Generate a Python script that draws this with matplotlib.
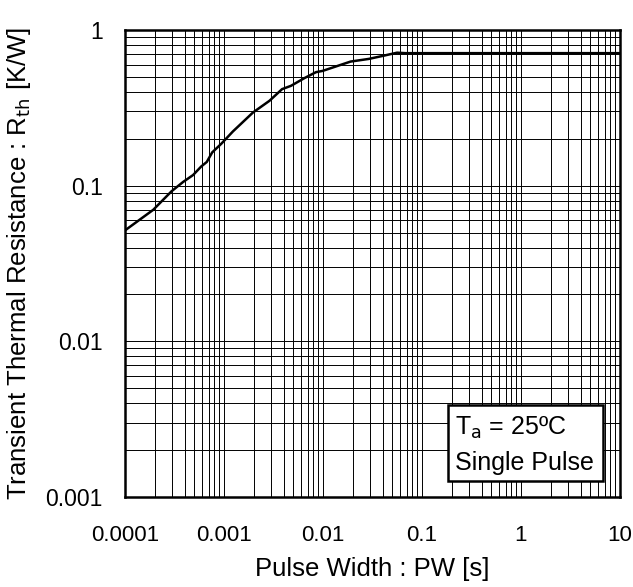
import matplotlib
matplotlib.use("Agg")
import matplotlib.pyplot as plt
from matplotlib.patches import Rectangle
from matplotlib.ticker import LogLocator, FixedLocator, NullFormatter

plt.rcParams['font.family'] = ['Liberation Sans', 'DejaVu Sans']

# single pulse transient thermal resistance
pw = [1e-4, 1.93e-4, 2.95e-4, 3.86e-4, 4.87e-4, 5.9e-4, 6.7e-4, 7.6e-4, 9.4e-4,
      1.23e-3, 1.96e-3, 2.88e-3, 3.86e-3, 4.75e-3, 6.46e-3, 8.5e-3, 9.9e-3,
      1.9e-2, 2.9e-2, 3.98e-2, 5.6e-2, 6.8e-2, 10]
rth = [0.0516, 0.070, 0.092, 0.1056, 0.117, 0.133, 0.142, 0.1636, 0.186,
       0.223, 0.295, 0.351, 0.417, 0.438, 0.490, 0.536, 0.546,
       0.627, 0.652, 0.681, 0.715, 0.71, 0.71]

xticks = [1e-4, 1e-3, 1e-2, 1e-1, 1, 10]
xlabels = ['0.0001', '0.001', '0.01', '0.1', '1', '10']
yticks = [1e-3, 1e-2, 1e-1, 1]
ylabels = ['0.001', '0.01', '0.1', '1']

fig = plt.figure(figsize=(6.33, 5.87), dpi=100)
ax = fig.add_axes([125/633, 1 - 497/587, 495/633, 467/587])
ax.set_xscale('log')
ax.set_yscale('log')
ax.set_xlim(1e-4, 10)
ax.set_ylim(1e-3, 1)

ax.xaxis.set_major_locator(FixedLocator(xticks))
ax.set_xticklabels(xlabels)
ax.yaxis.set_major_locator(FixedLocator(yticks))
ax.set_yticklabels(ylabels)
ax.xaxis.set_minor_locator(LogLocator(base=10, subs=range(2, 10), numticks=20))
ax.yaxis.set_minor_locator(LogLocator(base=10, subs=range(2, 10), numticks=20))
ax.xaxis.set_minor_formatter(NullFormatter())
ax.yaxis.set_minor_formatter(NullFormatter())

ax.grid(True, which='both', color='black', linewidth=0.7)
ax.tick_params(which='both', length=0)
ax.tick_params(axis='x', pad=20, labelsize=16)
ax.tick_params(axis='y', pad=16, labelsize=16.5)
for s in ax.spines.values():
    s.set_linewidth(1.8)

ax.plot(pw, rth, color='black', linewidth=1.8, zorder=3)

ax.set_xlabel('Pulse Width : PW [s]', fontsize=18.5, labelpad=8)
ax.set_ylabel('Transient Thermal Resistance : R$_{\\mathrm{th}}$ [K/W]', fontsize=18.5, labelpad=9)

box = Rectangle((0.652, 0.034), 0.313, 0.163, transform=ax.transAxes,
                facecolor='white', edgecolor='black', linewidth=1.8, zorder=5)
ax.add_patch(box)
ax.text(0.666, 0.133, 'T$_{\\mathrm{a}}$ = 25ºC', transform=ax.transAxes,
        fontsize=18, va='baseline', ha='left', zorder=6)
ax.text(0.666, 0.058, 'Single Pulse', transform=ax.transAxes,
        fontsize=18, va='baseline', ha='left', zorder=6)

fig.savefig('out.png', dpi=100)
